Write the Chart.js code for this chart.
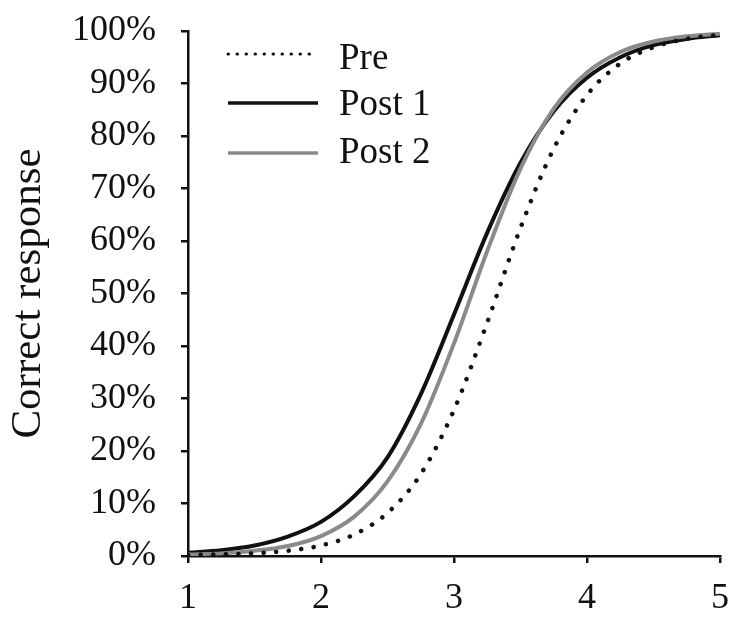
<!DOCTYPE html>
<html>
    <head>
        <meta charset="utf-8">
        <title>Correct response</title>
        <script src="https://cdn.jsdelivr.net/npm/chart.js@4.4.0/dist/chart.umd.min.js"></script>
        <style>
            html, body {
                margin: 0;
                padding: 0;
                background: #fff;
            }
            #container {
                width: 733px;
                height: 621px;
            }
        </style>
    </head>
    <body>
        <div id="container">
            <canvas id="vis"></canvas>
        </div>
        <script>
            // stimulus level (x) and proportion correct (%)
            const levels = [1, 1.25, 1.5, 1.75, 2, 2.25, 2.5, 2.75, 3, 3.25, 3.5, 3.75, 4, 4.25, 4.5, 4.75, 5];
            const pre   = [0.2, 0.3, 0.5, 1.0, 2.0, 4.1, 8.2, 15.6, 27.8, 44.5, 62.5, 77.6, 87.8, 93.8, 96.9, 98.5, 99.3];
            const post1 = [0.6, 1.1, 2.0, 3.7, 6.5, 11.4, 18.8, 30.8, 46.0, 61.6, 74.9, 84.7, 91.1, 95.0, 97.3, 98.5, 99.2];
            const post2 = [0.3, 0.5, 1.0, 1.9, 3.8, 7.5, 14.2, 25.1, 40.5, 58.1, 73.8, 85.2, 92.1, 96.0, 98.0, 99.0, 99.5];
            const seriesLabels = ['Pre', 'Post 1', 'Post 2'];
            const xTicks = [1, 2, 3, 4, 5];

            const serif = "'Liberation Serif', 'Times New Roman', serif";
            const ink = '#111';
            const grey = '#8a8a8a';

            const toPoints = (vals) => vals.map((v, i) => ({ x: levels[i], y: v }));

            // legend drawn inside the plot area, top-left
            const innerLegend = {
                id: 'innerLegend',
                afterDatasetsDraw(chart, args, opts) {
                    const ctx = chart.ctx;
                    ctx.save();
                    chart.data.datasets.forEach((ds, i) => {
                        const ly = opts.lineY[i];
                        ctx.beginPath();
                        ctx.strokeStyle = ds.borderColor;
                        ctx.lineWidth = i === 0 ? 3 : 3.5;
                        ctx.lineCap = i === 0 ? 'round' : 'butt';
                        ctx.setLineDash(i === 0 ? [0.5, 8.5] : []);
                        ctx.moveTo(opts.x0, ly);
                        ctx.lineTo(opts.x1, ly);
                        ctx.stroke();
                        ctx.setLineDash([]);
                        ctx.fillStyle = ink;
                        ctx.font = `${opts.size}px ${serif}`;
                        ctx.textAlign = 'left';
                        ctx.textBaseline = 'middle';
                        ctx.fillText(ds.label, opts.textX, opts.textY[i]);
                    });
                    ctx.restore();
                }
            };

            const config = {
                type: 'line',
                data: {
                    datasets: [
                        {
                            label: seriesLabels[0],
                            data: toPoints(pre),
                            borderColor: ink,
                            borderWidth: 4.5,
                            borderDash: [0.1, 12.5],
                            borderCapStyle: 'round',
                            order: 0
                        },
                        {
                            label: seriesLabels[1],
                            data: toPoints(post1),
                            borderColor: ink,
                            borderWidth: 4,
                            order: 2
                        },
                        {
                            label: seriesLabels[2],
                            data: toPoints(post2),
                            borderColor: grey,
                            borderWidth: 4,
                            order: 1
                        }
                    ]
                },
                options: {
                    responsive: true,
                    maintainAspectRatio: false,
                    animation: false,
                    layout: {
                        padding: { top: 31, right: 13, left: 0, bottom: 0 }
                    },
                    elements: {
                        point: { radius: 0 },
                        line: { cubicInterpolationMode: 'monotone', fill: false }
                    },
                    plugins: {
                        legend: { display: false },
                        tooltip: { enabled: false },
                        innerLegend: {
                            x0: 228, x1: 318, textX: 339,
                            lineY: [54, 103, 153],
                            textY: [59, 105, 153],
                            size: 37
                        }
                    },
                    scales: {
                        x: {
                            type: 'linear',
                            min: 1,
                            max: 5,
                            afterFit(scale) {
                                scale.height = 65;
                                scale.paddingLeft = 0;
                                scale.paddingRight = 0;
                            },
                            afterBuildTicks(scale) { scale.ticks = xTicks.map(v => ({ value: v })); },
                            border: { display: true, color: ink, width: 2.5 },
                            grid: { drawOnChartArea: false, drawTicks: true, tickLength: 7, color: ink, lineWidth: 2.5 },
                            ticks: {
                                color: ink,
                                padding: 14,
                                font: { family: serif, size: 36 }
                            }
                        },
                        y: {
                            min: 0,
                            max: 100,
                            afterFit(scale) {
                                scale.width = 188;
                                scale.paddingTop = 0;
                                scale.paddingBottom = 0;
                            },
                            border: { display: true, color: ink, width: 2.5 },
                            grid: { drawOnChartArea: false, drawTicks: true, tickLength: 7, color: ink, lineWidth: 2.5 },
                            ticks: {
                                stepSize: 10,
                                color: ink,
                                padding: 25,
                                font: { family: serif, size: 36 },
                                callback: (v) => v + '%'
                            },
                            title: {
                                display: true,
                                text: 'Correct response',
                                color: ink,
                                padding: { top: 3, bottom: 0 },
                                font: { family: serif, size: 43 }
                            }
                        }
                    }
                },
                plugins: [innerLegend]
            };

            new Chart(document.getElementById('vis'), config);
        </script>
    </body>
</html>
